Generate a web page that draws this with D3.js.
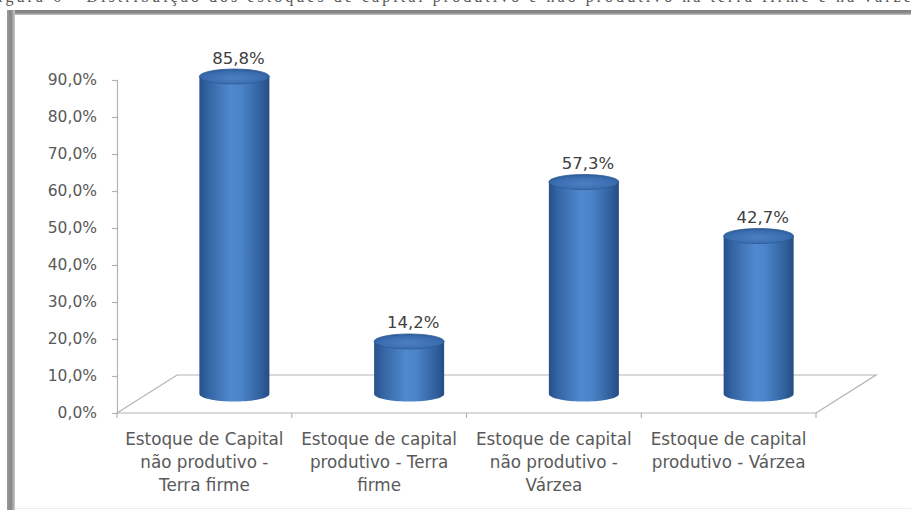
<!DOCTYPE html>
<html>
<head>
<meta charset="utf-8">
<script src="https://cdn.jsdelivr.net/npm/d3@7/dist/d3.min.js"></script>
<style>
  html, body { margin: 0; padding: 0; background: #fff; }
  svg { display: block; }
</style>
</head>
<body>
<svg id="chart" width="911" height="510"></svg>
<script>
// Share of capital stock by type and environment (%)
const categories = [
  ["Estoque de Capital", "não produtivo -", "Terra firme"],
  ["Estoque de capital", "produtivo - Terra", "firme"],
  ["Estoque de capital", "não produtivo -", "Várzea"],
  ["Estoque de capital", "produtivo - Várzea"]
];
const values = [85.8, 14.2, 57.3, 42.7];
const yTicks = [0, 10, 20, 30, 40, 50, 60, 70, 80, 90];
const caption = "Figura 6 - Distribuição dos estoques de capital produtivo e não produtivo na terra firme e na várzea";

const svg = d3.select("#chart");
const W = 911, H = 510;
const font = "'DejaVu Sans', 'Open Sans', sans-serif";

// Plot geometry: front plane and depth offset of the 3D floor
const front = { left: 117, right: 816, bottom: 413, top: 80 };
const depth = { dx: 60, dy: -38 };

const x = d3.scaleBand()
  .domain(d3.range(categories.length))
  .range([front.left, front.right])
  .paddingInner(0).paddingOuter(0);

const y = d3.scaleLinear().domain([0, 90]).range([front.bottom, front.top]);
// Same scale shifted to the middle depth, where the cylinders stand
const yMid = v => y(v) + depth.dy / 2;

const fmt = v => v.toFixed(1).replace(".", ",") + "%";

// Caption line above the frame (its upper part runs past the page edge)
svg.append("text")
  .attr("x", -14).attr("y", 1.5)
  .attr("font-family", "Liberation Serif, Times New Roman, serif")
  .attr("font-size", 16)
  .attr("fill", "#555")
  .attr("textLength", 935)
  .text(caption);

// Frame with a soft grey edge on the top and left
const defs = svg.append("defs");
const gTop = defs.append("linearGradient").attr("id", "frameTop").attr("x1", 0).attr("y1", 0).attr("x2", 0).attr("y2", 1);
gTop.append("stop").attr("offset", "0%").attr("stop-color", "#7f7f7f");
gTop.append("stop").attr("offset", "60%").attr("stop-color", "#8c8c8c");
gTop.append("stop").attr("offset", "100%").attr("stop-color", "#c8c8c8");
const gLeft = defs.append("linearGradient").attr("id", "frameLeft").attr("x1", 0).attr("y1", 0).attr("x2", 1).attr("y2", 0);
gLeft.append("stop").attr("offset", "0%").attr("stop-color", "#9a9a9a");
gLeft.append("stop").attr("offset", "50%").attr("stop-color", "#858585");
gLeft.append("stop").attr("offset", "100%").attr("stop-color", "#c8c8c8");

svg.append("rect").attr("x", 7).attr("y", 10).attr("width", W - 7).attr("height", 5).attr("fill", "url(#frameTop)");
svg.append("rect").attr("x", 7).attr("y", 10).attr("width", 8).attr("height", H - 10).attr("fill", "url(#frameLeft)");
svg.append("line").attr("x1", 15).attr("x2", W).attr("y1", 508.5).attr("y2", 508.5)
  .attr("stroke", "#ececec").attr("stroke-width", 1);

// Floor of the 3D plot
const axisColor = "#b3b3b3";
svg.append("path")
  .attr("d", d3.line()([
    [front.left, front.bottom],
    [front.left + depth.dx, front.bottom + depth.dy],
    [front.right + depth.dx, front.bottom + depth.dy],
    [front.right, front.bottom]
  ]))
  .attr("fill", "none").attr("stroke", axisColor).attr("stroke-width", 1.2);

// Value axis
const yAxis = svg.append("g")
  .attr("transform", `translate(${front.left},0)`)
  .call(d3.axisLeft(y).tickValues(yTicks).tickSize(5).tickPadding(15).tickFormat(fmt));
yAxis.select(".domain").attr("stroke", axisColor).attr("stroke-width", 1.2);
yAxis.selectAll(".tick line").attr("stroke", axisColor).attr("stroke-width", 1.2);
yAxis.selectAll(".tick text")
  .attr("fill", "#595959")
  .attr("font-family", font)
  .attr("font-size", 15.5);

// Category axis: front edge with ticks at band boundaries
const xAxis = svg.append("g");
xAxis.append("line")
  .attr("x1", front.left).attr("x2", front.right)
  .attr("y1", front.bottom).attr("y2", front.bottom)
  .attr("stroke", axisColor).attr("stroke-width", 1.2);
const bounds = d3.range(categories.length + 1).map(i => front.left + i * x.step());
xAxis.selectAll("line.tick").data(bounds).join("line")
  .attr("class", "tick")
  .attr("x1", d => d).attr("x2", d => d)
  .attr("y1", front.bottom).attr("y2", front.bottom + 5)
  .attr("stroke", axisColor).attr("stroke-width", 1.2);

const catLabels = xAxis.selectAll("text.cat").data(categories).join("text")
  .attr("class", "cat")
  .attr("text-anchor", "middle")
  .attr("fill", "#595959")
  .attr("font-family", font)
  .attr("font-size", 16.8);
catLabels.each(function (lines, i) {
  const cx = x(i) + x.bandwidth() / 2;
  d3.select(this).selectAll("tspan").data(lines).join("tspan")
    .attr("x", cx)
    .attr("y", (d, j) => 445 + j * 23)
    .text(d => d);
});

// Cylinder shading
const body = defs.append("linearGradient").attr("id", "cylBody").attr("x1", 0).attr("x2", 1).attr("y1", 0).attr("y2", 0);
[["0%", "#26508a"], ["12%", "#3464a2"], ["45%", "#5089cf"], ["60%", "#4b84c9"], ["88%", "#30609c"], ["100%", "#244c82"]]
  .forEach(([o, c]) => body.append("stop").attr("offset", o).attr("stop-color", c));
const cap = defs.append("radialGradient").attr("id", "cylTop").attr("cx", "50%").attr("cy", "60%").attr("r", "60%");
[["0%", "#4a80c3"], ["70%", "#3b6db0"], ["100%", "#2b5a95"]]
  .forEach(([o, c]) => cap.append("stop").attr("offset", o).attr("stop-color", c));

const rx = 35, ry = 7.5;
const bars = svg.append("g").selectAll("g.bar").data(values).join("g").attr("class", "bar");

bars.each(function (v, i) {
  const g = d3.select(this);
  const cx = x(i) + x.bandwidth() / 2 + depth.dx / 2;
  const yb = yMid(0), yt = yMid(v);
  const path = d3.path();
  path.moveTo(cx - rx, yt);
  path.lineTo(cx - rx, yb);
  // front half of the bottom ellipse
  const n = 40;
  for (let k = 0; k <= n; k++) {
    const a = Math.PI - Math.PI * k / n;
    path.lineTo(cx + rx * Math.cos(a), yb + ry * Math.sin(a));
  }
  path.lineTo(cx + rx, yt);
  path.closePath();
  g.append("path").attr("d", path.toString()).attr("fill", "url(#cylBody)");
  g.append("ellipse")
    .attr("cx", cx).attr("cy", yt).attr("rx", rx).attr("ry", ry)
    .attr("fill", "url(#cylTop)")
    .attr("stroke", "#2c5b97").attr("stroke-width", 0.8);
  g.append("text")
    .attr("x", cx + 4).attr("y", yt - 13)
    .attr("text-anchor", "middle")
    .attr("fill", "#404040")
    .attr("font-family", font)
    .attr("font-size", 16.5)
    .text(fmt(v));
});
</script>
</body>
</html>
